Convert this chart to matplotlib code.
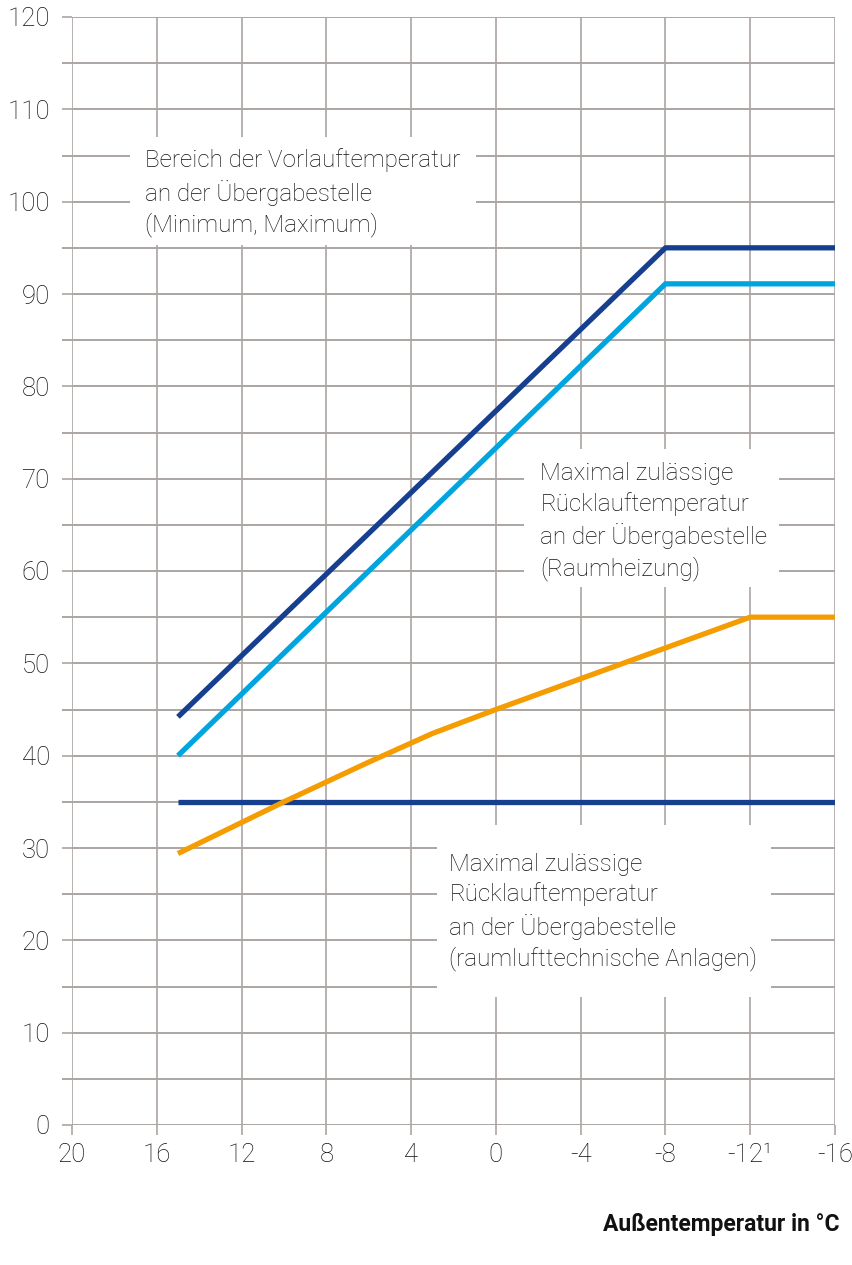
import numpy as np
import matplotlib
matplotlib.use("Agg")
import matplotlib.pyplot as plt
from matplotlib.patches import Rectangle

plt.rcParams['font.family'] = ['Roboto', 'DejaVu Sans']

# data
vl_max_x = [15, -8, -16]
vl_max_y = [44.2, 95, 95]
vl_min_x = [15, -8, -16]
vl_min_y = [40, 91.1, 91.1]
rl_heiz_x = [15, 10, 6, 3, 0, -12, -16]
rl_heiz_y = [29.4, 35, 39.3, 42.4, 45, 55, 55]
rl_rlt_x = [15, -16]
rl_rlt_y = [35, 35]

xticks = [20, 16, 12, 8, 4, 0, -4, -8, -12, -16]
xticklabels = ['20', '16', '12', '8', '4', '0', '-4', '-8', '-12\u00b9', '-16']
yticks = list(range(0, 121, 10))

dark = '#173f8f'
light = '#00a5df'
orange = '#f59c00'
grid = '#aba6a3'
txt = '#111111'

fig = plt.figure(figsize=(8.53, 12.65), dpi=100)
ax = fig.add_axes([72/853, 140/1265, (835-72)/853, (1125-17)/1265])
ax.set_xlim(20, -16)
ax.set_ylim(0, 120)

ax.set_xticks(xticks)
ax.set_xticklabels(xticklabels)
ax.set_yticks(yticks)
ax.set_yticks(np.arange(5, 120, 10), minor=True)
ax.tick_params(axis='both', which='major', length=7, width=1.2, color=grid,
               labelsize=18.5, labelcolor=txt)
ax.tick_params(axis='y', which='major', pad=9)
ax.tick_params(axis='x', which='major', pad=6)
ax.tick_params(axis='y', which='minor', length=7, width=1.4, color=grid, labelleft=False)
for lab in ax.get_xticklabels() + ax.get_yticklabels():
    lab.set_fontweight('light')
ax.grid(True, which='both', axis='y', color=grid, lw=1.4)
ax.grid(True, which='major', axis='x', color=grid, lw=1.2)
ax.set_axisbelow(True)
for s in ax.spines.values():
    s.set_visible(False)

# white label boxes over the grid
boxes = [(17.26, 95.3, 0.94, 107.0), (-1.33, 58.3, -13.36, 73.2), (2.78, 13.9, -12.98, 32.5)]
for x0, y0, x1, y1 in boxes:
    ax.add_patch(Rectangle((x0, y0), x1 - x0, y1 - y0, facecolor='white',
                           edgecolor='none', zorder=1.5))

kw = dict(lw=3.8, solid_capstyle='butt', zorder=3)
ax.plot(rl_rlt_x, rl_rlt_y, color=dark, **kw)
ax.plot(rl_heiz_x, rl_heiz_y, color=orange, **kw)
ax.plot(vl_min_x, vl_min_y, color=light, **kw)
ax.plot(vl_max_x, vl_max_y, color=dark, **kw)

tkw = dict(fontsize=17.5, fontweight='light', va='top', ha='left',
           linespacing=1.36, color=txt, zorder=4)
ax.text(16.55, 105.8, 'Bereich der Vorlauftemperatur\nan der Übergabestelle\n(Minimum, Maximum)', **tkw)
ax.text(-2.1, 71.8, 'Maximal zulässige\nRücklauftemperatur\nan der Übergabestelle\n(Raumheizung)', **tkw)
ax.text(2.2, 29.5, 'Maximal zulässige\nRücklauftemperatur\nan der Übergabestelle\n(raumlufttechnische Anlagen)', **tkw)

fig.text(840/853, 1 - 1225/1265, 'Außentemperatur in °C', ha='right', va='center',
         fontsize=16.5, fontweight='bold', color=txt)

fig.savefig('out.png', dpi=100)
